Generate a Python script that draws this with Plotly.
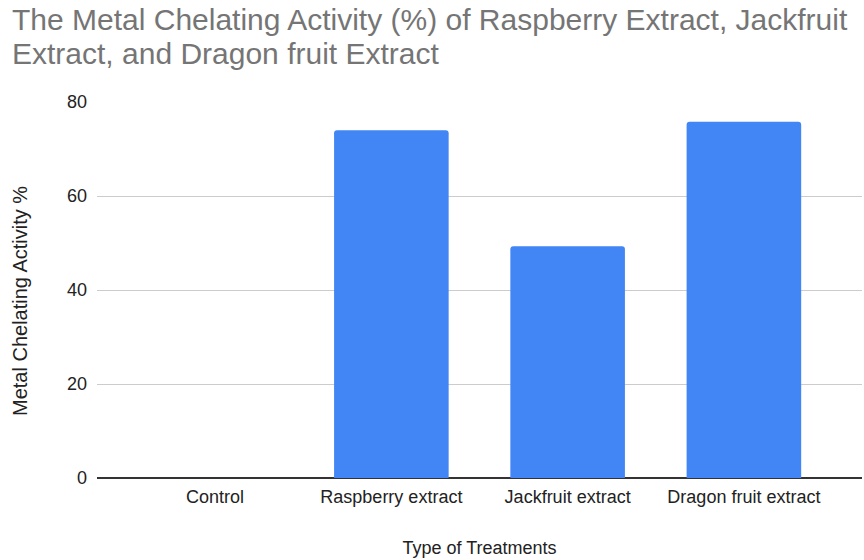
import plotly.graph_objects as go

# Metal chelating activity by treatment
treatments = ["Control", "Raspberry extract", "Jackfruit extract", "Dragon fruit extract"]
chelating_pct = [0, 74.0, 49.3, 75.8]
y_ticks = [0, 20, 40, 60, 80]

title_lines = [
    "The Metal Chelating Activity (%) of Raspberry Extract, Jackfruit",
    "Extract, and Dragon fruit Extract",
]

# plot area geometry in pixels, used to place free-standing text
L, R, T, B, W, H = 97, 2, 102, 82, 864, 560
PW, PH = W - L - R, H - T - B


def px_x(x):
    return (x - L) / PW


def px_y(y):
    return (H - B - y) / PH


fig = go.Figure()
fig.add_trace(go.Bar(
    x=treatments,
    y=chelating_pct,
    marker=dict(color="#4285F4", line=dict(width=0), cornerradius=3),
    width=0.65,
))

annotations = []
for i, line in enumerate(title_lines):
    annotations.append(dict(
        text=line,
        xref="paper", yref="paper",
        x=px_x(10), xanchor="left",
        y=px_y(19 + 34 * i), yanchor="middle",
        showarrow=False,
        font=dict(size=30, color="#757575"),
    ))
annotations.append(dict(
    text="Metal Chelating Activity %",
    xref="paper", yref="paper",
    x=px_x(20), xanchor="center",
    y=px_y(301), yanchor="middle",
    textangle=-90,
    showarrow=False,
    font=dict(size=20, color="#222222"),
))

fig.update_layout(
    width=W,
    height=H,
    margin=dict(l=L, r=R, t=T, b=B),
    paper_bgcolor="white",
    plot_bgcolor="white",
    font=dict(family="Liberation Sans, Arial, sans-serif", color="#222222"),
    showlegend=False,
    annotations=annotations,
)

fig.update_xaxes(
    range=[-0.67, 3.67],
    showgrid=False,
    showline=False,
    zeroline=False,
    ticks="",
    ticklabelstandoff=6,
    tickfont=dict(size=18, color="#222222"),
    title=dict(text="Type of Treatments", font=dict(size=18, color="#222222"), standoff=35),
)

fig.update_yaxes(
    range=[0, 80],
    tickvals=y_ticks,
    showgrid=True,
    gridcolor="#cccccc",
    gridwidth=1,
    zeroline=True,
    zerolinecolor="#333333",
    zerolinewidth=1.5,
    ticks="",
    ticklabelstandoff=9,
    tickfont=dict(size=18, color="#222222"),
)

fig.write_html("out.html")
